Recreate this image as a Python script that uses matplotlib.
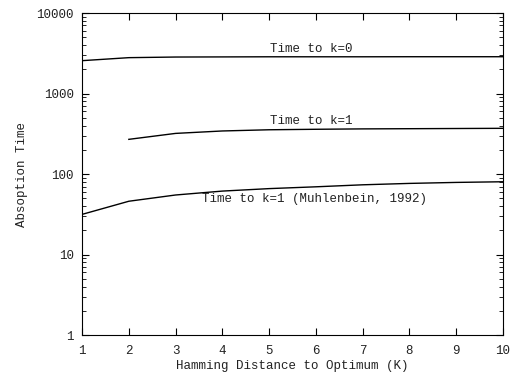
import matplotlib.pyplot as plt
from matplotlib.ticker import LogLocator, FixedLocator

plt.rcParams['font.family'] = 'Liberation Mono'

# Datos
k = [1, 2, 3, 4, 5, 6, 7, 8, 9, 10]
t_k0 = [2560, 2790, 2840, 2850, 2860, 2860, 2860, 2865, 2865, 2865]
k_k1 = [2, 3, 4, 5, 6, 7, 8, 9, 10]
t_k1 = [270, 320, 343, 355, 360, 364, 366, 368, 370]
t_muhl = [31.6, 46, 55, 61.5, 66, 69.5, 73.6, 76.6, 78.8, 80.3]

fig = plt.figure(figsize=(5.13, 3.77), dpi=100)
ax = fig.add_axes([0.16, 0.111, 0.8205, 0.8545])

ax.plot(k, t_k0, color='black', lw=1)
ax.plot(k_k1, t_k1, color='black', lw=1)
ax.plot(k, t_muhl, color='black', lw=1)

txt = '#222222'
ax.text(5.9, 3570, 'Time to k=0', ha='center', va='center', fontsize=9, color=txt)
ax.text(5.9, 455, 'Time to k=1', ha='center', va='center', fontsize=9, color=txt)
ax.text(5.98, 49, 'Time to k=1 (Muhlenbein, 1992)', ha='center', va='center', fontsize=9, color=txt)

ax.set_yscale('log')
ax.set_xlim(1, 10)
ax.set_ylim(1, 10000)
ax.xaxis.set_major_locator(FixedLocator(k))
ax.yaxis.set_major_locator(LogLocator(base=10))
ax.yaxis.set_minor_locator(LogLocator(base=10, subs=range(2, 10)))
ax.set_yticks([1, 10, 100, 1000, 10000])
ax.set_yticklabels(['1', '10', '100', '1000', '10000'])
ax.tick_params(which='both', direction='in', top=True, right=True, labelsize=9, labelcolor=txt)
ax.tick_params(axis='x', pad=7)
ax.tick_params(axis='y', pad=6)
ax.tick_params(which='major', length=5)
ax.tick_params(which='minor', length=3)

ax.set_xlabel('Hamming Distance to Optimum (K)', fontsize=9, labelpad=2, color=txt)
ax.set_ylabel('Absoption Time', fontsize=9, labelpad=6, color=txt)

fig.savefig('out.png', dpi=100)
